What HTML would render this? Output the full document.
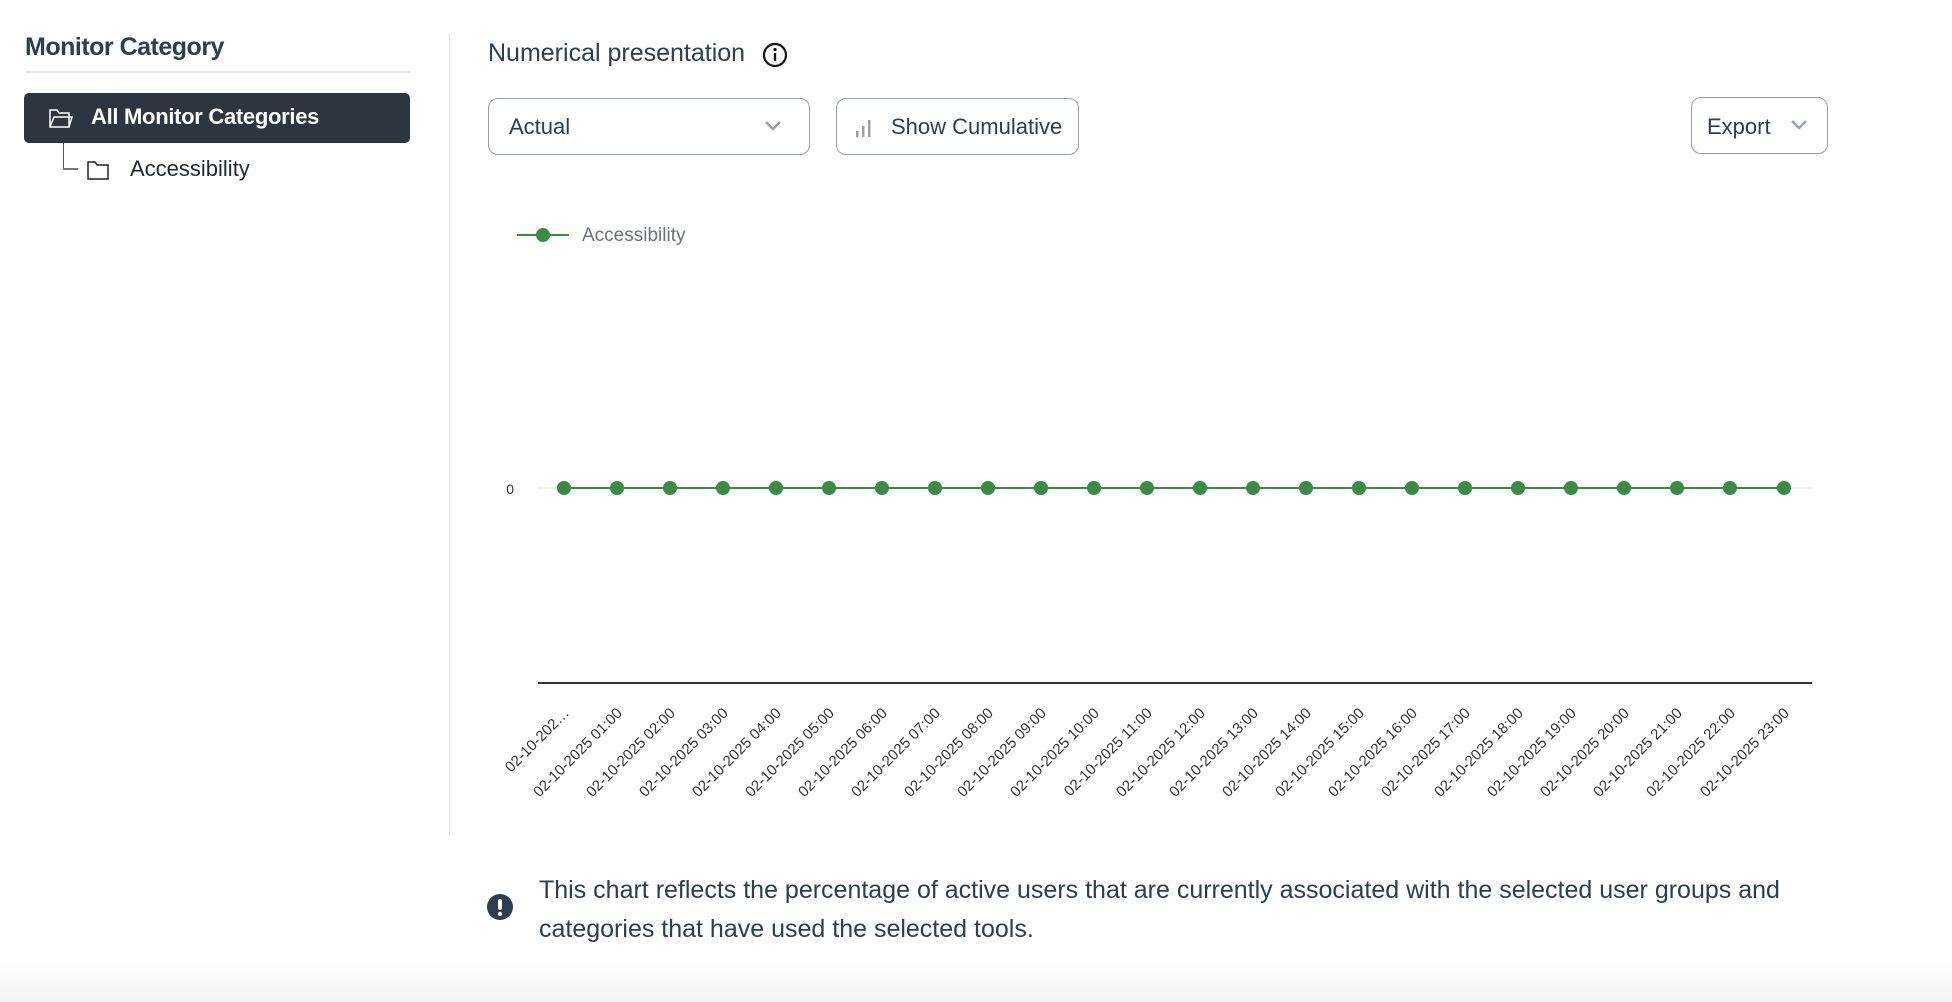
<!DOCTYPE html>
<html><head><meta charset="utf-8"><style>
body{margin:0;width:1952px;height:1002px;background:#fff;font-family:"Liberation Sans",sans-serif;color:#2c3e50;position:relative;overflow:hidden}
.a{position:absolute}
.btn{position:absolute;border:1px solid #9aa0aa;border-radius:10px;box-sizing:border-box;font-size:22px;color:#2c3e50}
</style></head><body>
<div class="a" style="left:25px;top:33px;font-size:25px;font-weight:bold;color:#2c3e50;letter-spacing:-0.5px">Monitor Category</div>
<div class="a" style="left:25px;top:71px;width:385px;height:2px;background:#e6e8ea"></div>
<div class="a" style="left:24px;top:93px;width:386px;height:50px;background:#2c3540;border-radius:5px"></div>
<svg class="a" style="left:48px;top:106px" width="26" height="24" viewBox="0 0 26 24"><path d="M2 4h7l2 3h10v14H2z" fill="none" stroke="#fff" stroke-width="1.5"/><path d="M2 21l4-10h18l-3 10" fill="none" stroke="#fff" stroke-width="1.5"/></svg>
<div class="a" style="left:91px;top:104px;font-size:22px;color:#fff;font-weight:bold;letter-spacing:-0.3px">All Monitor Categories</div>
<div class="a" style="left:63px;top:143px;width:1px;height:26px;background:#555"></div>
<div class="a" style="left:63px;top:168px;width:15px;height:2px;background:#777"></div>
<svg class="a" style="left:86px;top:158px" width="26" height="24" viewBox="0 0 26 24"><path d="M2 4h7l2 3h11v14H2z" fill="none" stroke="#222" stroke-width="1.5"/></svg>
<div class="a" style="left:130px;top:156px;font-size:22px;color:#1f2933">Accessibility</div>
<div class="a" style="left:449px;top:34px;width:1px;height:802px;background:#e3e5e8"></div>
<div class="a" style="left:488px;top:39px;font-size:25px;color:#2c3e50">Numerical presentation</div>
<svg class="a" style="left:761px;top:41px" width="28" height="28"><circle cx="14" cy="14" r="11" fill="none" stroke="#111" stroke-width="2.2"/><circle cx="14" cy="8.5" r="1.6" fill="#111"/><rect x="12.8" y="12" width="2.4" height="8" fill="#111"/></svg>
<div class="btn" style="left:488px;top:98px;width:322px;height:57px"><span class="a" style="left:20px;top:15px">Actual</span><svg class="a" style="left:274px;top:20px" width="20" height="14"><path d="M3 3l7 7 7-7" fill="none" stroke="#9aa0aa" stroke-width="2.5"/></svg></div>
<div class="btn" style="left:836px;top:98px;width:243px;height:57px"><svg class="a" style="left:17px;top:18px" width="20" height="22"><rect x="2" y="14" width="2.5" height="6" fill="#9aa0aa"/><rect x="8" y="9" width="2.5" height="11" fill="#9aa0aa"/><rect x="14" y="3" width="2.5" height="17" fill="#9aa0aa"/></svg><span class="a" style="left:54px;top:15px">Show Cumulative</span></div>
<div class="btn" style="left:1691px;top:97px;width:137px;height:57px"><span class="a" style="left:15px;top:16px">Export</span><svg class="a" style="left:97px;top:20px" width="20" height="14"><path d="M3 3l7 7 7-7" fill="none" stroke="#9aa0aa" stroke-width="2.5"/></svg></div>
<svg class="a" style="left:0;top:0" width="1952" height="860">
<line x1="517" y1="235" x2="569" y2="235" stroke="#3b8a45" stroke-width="2"/><circle cx="543" cy="235" r="7" fill="#3b8a45"/>
<text x="582" y="241" font-size="19" fill="#6b7280">Accessibility</text>
<line x1="538" y1="488" x2="1812" y2="488" stroke="#e5e5e5"/>
<text x="514" y="494" font-size="14" fill="#333" text-anchor="end">0</text>
<line x1="538" y1="683" x2="1812" y2="683" stroke="#333" stroke-width="2"/>
<line x1="564" y1="488" x2="1784" y2="488" stroke="#3b8a45" stroke-width="2"/>
<g fill="#3b8a45">
<circle cx="564" cy="488" r="7"/><circle cx="617" cy="488" r="7"/><circle cx="670" cy="488" r="7"/><circle cx="723" cy="488" r="7"/><circle cx="776" cy="488" r="7"/><circle cx="829" cy="488" r="7"/><circle cx="882" cy="488" r="7"/><circle cx="935" cy="488" r="7"/><circle cx="988" cy="488" r="7"/><circle cx="1041" cy="488" r="7"/><circle cx="1094" cy="488" r="7"/><circle cx="1147" cy="488" r="7"/><circle cx="1200" cy="488" r="7"/><circle cx="1253" cy="488" r="7"/><circle cx="1306" cy="488" r="7"/><circle cx="1359" cy="488" r="7"/><circle cx="1412" cy="488" r="7"/><circle cx="1465" cy="488" r="7"/><circle cx="1518" cy="488" r="7"/><circle cx="1571" cy="488" r="7"/><circle cx="1624" cy="488" r="7"/><circle cx="1677" cy="488" r="7"/><circle cx="1730" cy="488" r="7"/><circle cx="1784" cy="488" r="7"/>
</g>
<g font-size="15" fill="#333" text-anchor="end">
<text transform="translate(570,714) rotate(-45)">02-10-202…</text>
<text transform="translate(623,714) rotate(-45)">02-10-2025 01:00</text>
<text transform="translate(676,714) rotate(-45)">02-10-2025 02:00</text>
<text transform="translate(729,714) rotate(-45)">02-10-2025 03:00</text>
<text transform="translate(782,714) rotate(-45)">02-10-2025 04:00</text>
<text transform="translate(835,714) rotate(-45)">02-10-2025 05:00</text>
<text transform="translate(888,714) rotate(-45)">02-10-2025 06:00</text>
<text transform="translate(941,714) rotate(-45)">02-10-2025 07:00</text>
<text transform="translate(994,714) rotate(-45)">02-10-2025 08:00</text>
<text transform="translate(1047,714) rotate(-45)">02-10-2025 09:00</text>
<text transform="translate(1100,714) rotate(-45)">02-10-2025 10:00</text>
<text transform="translate(1153,714) rotate(-45)">02-10-2025 11:00</text>
<text transform="translate(1206,714) rotate(-45)">02-10-2025 12:00</text>
<text transform="translate(1259,714) rotate(-45)">02-10-2025 13:00</text>
<text transform="translate(1312,714) rotate(-45)">02-10-2025 14:00</text>
<text transform="translate(1365,714) rotate(-45)">02-10-2025 15:00</text>
<text transform="translate(1418,714) rotate(-45)">02-10-2025 16:00</text>
<text transform="translate(1471,714) rotate(-45)">02-10-2025 17:00</text>
<text transform="translate(1524,714) rotate(-45)">02-10-2025 18:00</text>
<text transform="translate(1577,714) rotate(-45)">02-10-2025 19:00</text>
<text transform="translate(1630,714) rotate(-45)">02-10-2025 20:00</text>
<text transform="translate(1683,714) rotate(-45)">02-10-2025 21:00</text>
<text transform="translate(1736,714) rotate(-45)">02-10-2025 22:00</text>
<text transform="translate(1790,714) rotate(-45)">02-10-2025 23:00</text>
</g>
</svg>
<svg class="a" style="left:486px;top:893px" width="28" height="28"><circle cx="14" cy="14" r="13" fill="#2c3e50"/><rect x="12" y="6" width="4" height="11" rx="2" fill="#fff"/><circle cx="14" cy="21" r="2.2" fill="#fff"/></svg>
<div class="a" style="left:539px;top:871px;width:1320px;font-size:25px;line-height:39px;color:#2c3e50">This chart reflects the percentage of active users that are currently associated with the selected user groups and<br>categories that have used the selected tools.</div>
<div class="a" style="left:0;top:960px;width:1952px;height:42px;background:linear-gradient(#fff,#f3f3f3)"></div>
</body></html>
